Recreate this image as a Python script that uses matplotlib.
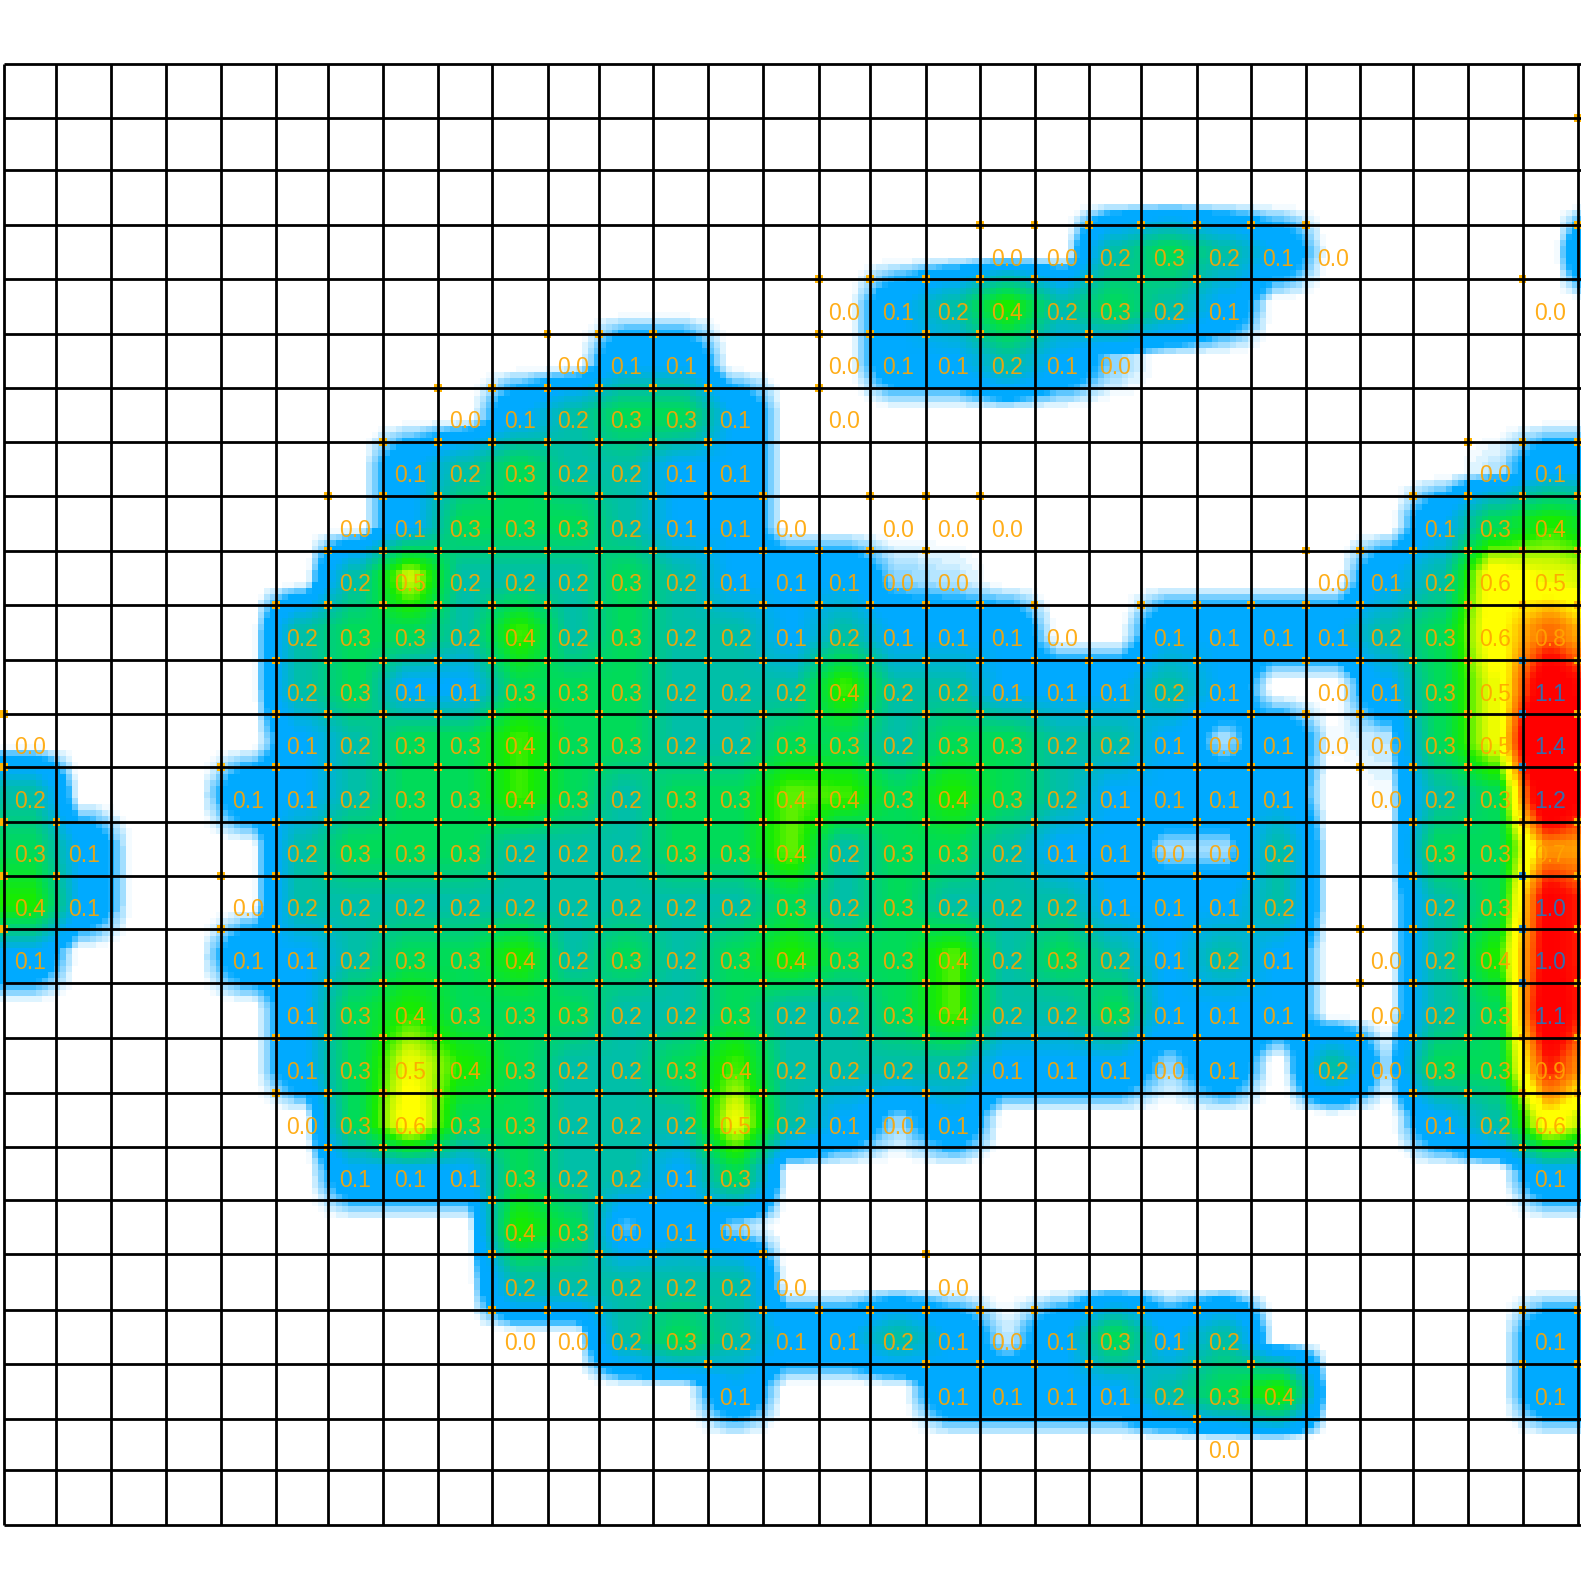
"""
Heat map of cell values on a hand-ruled grid, labelled cell by cell.
"""
import matplotlib
matplotlib.use('Agg')
import matplotlib.pyplot as plt
from matplotlib.colors import LinearSegmentedColormap, Normalize
import numpy as np

_ = None

# one list per grid row, one entry per column, None = no reading
# the last column runs off the right side of the picture
row_00 = [_] * 30
row_01 = [_, _, _, _, _, _, _, _, _, _, _, _, _, _, _, _, _, _, _, _, _, _, _, _, _, _, _, _, _, 0.0]
row_02 = [_] * 30
row_03 = [_, _, _, _, _, _, _, _, _, _, _, _, _, _, _, _, _, _, 0.0, 0.0, .2, .3, .2, .1, 0.0, _, _, _, _, .2]
row_04 = [_, _, _, _, _, _, _, _, _, _, _, _, _, _, _, 0.0, .1, .2, .4, .2, .3, .2, .1, _, _, _, _, _, 0.0, _]
row_05 = [_, _, _, _, _, _, _, _, _, _, 0.0, .1, .1, _, _, 0.0, .1, .1, .2, .1, .03, _, _, _, _, _, _, _, _, _]
row_06 = [_, _, _, _, _, _, _, _, 0.0, .1, .2, .3, .3, .1, _, 0.0, _, _, _, _, _, _, _, _, _, _, _, _, _, _]
row_07 = [_, _, _, _, _, _, _, .1, .2, .3, .2, .2, .1, .1, _, _, _, _, _, _, _, _, _, _, _, _, _, .02, .1, .1]
row_08 = [_, _, _, _, _, _, 0.0, .1, .3, .3, .3, .2, .1, .1, 0.0, _, 0.0, 0.0, 0.0, _, _, _, _, _, _, _, .1, .3, .4, .3]
row_09 = [_, _, _, _, _, _, .2, .5, .2, .2, .2, .3, .2, .1, .1, .1, .03, .02, _, _, _, _, _, _, 0.0, .1, .2, .6, .54, .5]
row_10 = [_, _, _, _, _, .2, .3, .3, .2, .42, .2, .3, .2, .2, .1, .2, .1, .1, .1, 0.0, _, .1, .1, .1, .1, .2, .3, .6, .8, .6]
row_11 = [_, _, _, _, _, .2, .3, .1, .1, .3, .3, .3, .2, .2, .2, .42, .2, .2, .1, .1, .1, .2, .1, _, 0.0, .1, .3, .54, 1.1, .8]
row_12 = [0.0, _, _, _, _, .1, .2, .3, .3, .42, .3, .3, .2, .2, .3, .3, .2, .3, .3, .2, .2, .1, .025, .1, .01, .02, .3, .54, 1.4, .8]
row_13 = [.2, _, _, _, .1, .1, .2, .3, .3, .42, .3, .2, .3, .3, .44, .42, .3, .4, .3, .2, .1, .1, .1, .1, _, .01, .2, .3, 1.2, .8]
row_14 = [.3, .1, _, _, _, .2, .3, .3, .3, .2, .2, .2, .3, .3, .44, .2, .3, .3, .2, .1, .1, .025, .025, .2, _, _, .3, .3, .74, .7]
row_15 = [.4, .1, _, _, 0.0, .2, .2, .2, .2, .2, .2, .2, .2, .2, .3, .2, .3, .2, .2, .2, .1, .1, .1, .2, _, _, .2, .3, 1.0, .8]
row_16 = [.1, _, _, _, .1, .1, .2, .3, .3, .4, .2, .3, .2, .3, .4, .3, .3, .43, .2, .3, .2, .1, .2, .1, _, 0.0, .2, .4, 1.0, .8]
row_17 = [_, _, _, _, _, .1, .3, .4, .3, .3, .3, .2, .2, .3, .2, .2, .3, .43, .2, .2, .3, .1, .1, .1, _, 0.0, .2, .3, 1.1, .7]
row_18 = [_, _, _, _, _, .1, .3, .54, .4, .3, .2, .2, .3, .42, .2, .2, .2, .2, .1, .1, .1, .03, .1, _, .2, .03, .3, .3, .9, .6]
row_19 = [_, _, _, _, _, 0.0, .3, .6, .3, .3, .2, .2, .2, .54, .2, .1, .03, .1, _, _, _, _, _, _, _, _, .1, .2, .6, .4]
row_20 = [_, _, _, _, _, _, .1, .1, .1, .3, .2, .2, .1, .3, _, _, _, _, _, _, _, _, _, _, _, _, _, _, .1, .1]
row_21 = [_, _, _, _, _, _, _, _, _, .4, .3, .04, .1, .03, _, _, _, _, _, _, _, _, _, _, _, _, _, _, _, _]
row_22 = [_, _, _, _, _, _, _, _, _, .2, .2, .2, .2, .2, 0.0, _, _, 0.0, _, _, _, _, _, _, _, _, _, _, _, _]
row_23 = [_, _, _, _, _, _, _, _, _, 0.0, 0.0, .2, .3, .2, .1, .1, .2, .1, .02, .1, .3, .1, .2, _, _, _, _, _, .1, .1]
row_24 = [_, _, _, _, _, _, _, _, _, _, _, _, _, .1, _, _, _, .1, .1, .1, .1, .2, .3, .4, _, _, _, _, .1, .1]
row_25 = [_, _, _, _, _, _, _, _, _, _, _, _, _, _, _, _, _, _, _, _, _, _, 0.0, _, _, _, _, _, _, _]
row_26 = [_] * 30

rows = [row_00, row_01, row_02, row_03, row_04, row_05, row_06, row_07, row_08,
        row_09, row_10, row_11, row_12, row_13, row_14, row_15, row_16, row_17,
        row_18, row_19, row_20, row_21, row_22, row_23, row_24, row_25, row_26]

# grid rules (every fifth cell is a little narrower)
SCALE = 1581 / 1568
col_edges = np.array([4, 56, 110, 165, 219, 274, 325, 380, 434, 488, 543, 594, 648, 702, 757,
                      812, 863, 918, 972, 1026, 1080, 1132, 1187, 1241, 1295, 1349, 1401,
                      1456, 1510, 1565, 1620]) * SCALE
row_edges = np.array([63, 117, 169, 223, 277, 331, 385, 438, 492, 546, 600, 655, 708, 761, 815,
                      869, 921, 975, 1029, 1084, 1138, 1190, 1244, 1299, 1353, 1407, 1458,
                      1512]) * SCALE

W, H = 1581, 1581
BLOCK = 6  # the heat layer is visibly blocky, about 6 px
FLAT = 0.08  # each cell keeps its own colour this far either side of its middle

heat_cmap = LinearSegmentedColormap.from_list('heat', [
    (0.0, '#ffffff'), (0.006, '#ffffff'), (0.015, '#cdeeff'), (0.03, '#80d2ff'),
    (0.05, '#00aaff'), (0.10, '#00aaff'), (0.20, '#00bfa8'), (0.30, '#00dc58'),
    (0.40, '#18ec00'), (0.50, '#c8f800'), (0.56, '#ffff00'), (0.62, '#ffff00'),
    (0.72, '#ffa000'), (0.82, '#ff6000'), (0.92, '#ff1000'), (1.0, '#ff0000')])


def knots(edges):
    """Two positions per cell, around the cell's middle."""
    mid = (edges[:-1] + edges[1:]) / 2
    width = np.diff(edges)
    return np.column_stack([mid - FLAT * width, mid + FLAT * width]).ravel()


def heat_layer(values):
    """Resample cell values to the blocky layer the heat map is drawn from."""
    col_knots = knots(col_edges)
    row_knots = knots(row_edges)
    block_x = np.arange(BLOCK / 2, W + BLOCK, BLOCK)
    block_y = np.arange(BLOCK / 2, H + BLOCK, BLOCK)
    by_col = np.array([np.interp(block_x, col_knots, np.repeat(r, 2)) for r in values])
    layer = np.array([np.interp(block_y, row_knots, np.repeat(by_col[:, i], 2), left=0, right=0)
                      for i in range(len(block_x))]).T
    return layer, block_x[-1] + BLOCK / 2, block_y[-1] + BLOCK / 2


values = np.array([[0.0 if v is None else v for v in r] for r in rows])

fig = plt.figure(figsize=(W / 100, H / 100), dpi=100)
ax = fig.add_axes([0, 0, 1, 1])
layer, right, bottom = heat_layer(values)
ax.imshow(layer, cmap=heat_cmap, norm=Normalize(0, 1), interpolation='nearest',
          extent=(0, right, bottom, 0), aspect='auto', zorder=1)

# every cell with a reading has a little mark on its top left corner
mark_x, mark_y, mark_c = [], [], []
for i, r in enumerate(rows):
    for j, v in enumerate(r):
        if v is None:
            continue
        mark_x.append(col_edges[j])
        mark_y.append(row_edges[i])
        mark_c.append('#1e90d8' if v >= 1.0 else '#ffb400')
ax.scatter(mark_x, mark_y, c=mark_c, s=32, marker='s', linewidths=0, zorder=2)

ax.vlines(col_edges, row_edges[0], row_edges[-1], color='black', linewidth=2.0, zorder=3)
ax.hlines(row_edges, col_edges[0], W + 2, color='black', linewidth=2.0, zorder=3)

for i, r in enumerate(rows):
    for j, v in enumerate(r):
        x = (col_edges[j] + col_edges[j + 1]) / 2
        if v is None or x > W:
            continue
        ax.text(x, (row_edges[i] + row_edges[i + 1]) / 2 + 7, f'{v:.1f}', ha='center', va='center',
                family='Liberation Sans', fontsize=16.5,
                color='#1f78c0' if v >= 1.0 else '#ffa500', alpha=0.9, zorder=4)

ax.set_xlim(0, W)
ax.set_ylim(H, 0)
ax.axis('off')
fig.savefig('out.png', dpi=100)
